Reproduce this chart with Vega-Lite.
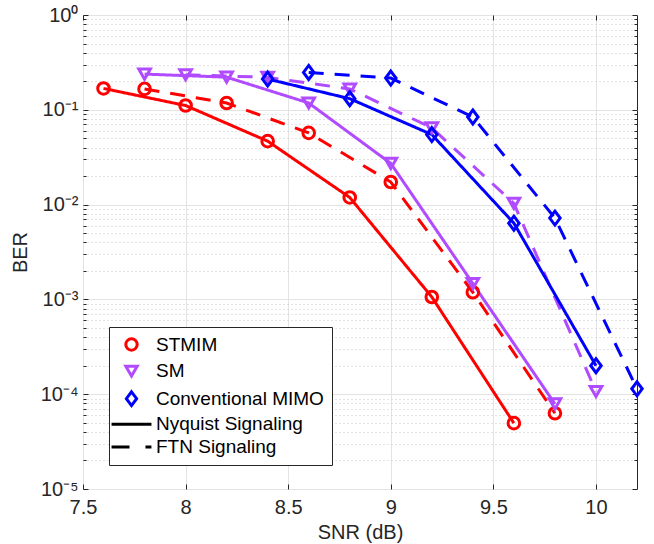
{
  "$schema": "https://vega.github.io/schema/vega-lite/v6.json",
  "width": 554,
  "height": 474,
  "autosize": {"type": "none"},
  "padding": {"left": 83, "top": 15, "right": 17, "bottom": 55},
  "background": "white",
  "config": {
    "font": "Liberation Sans",
    "view": {"stroke": "#262626", "strokeWidth": 1}
  },
  "data": {
    "values": [
      {"snr": 7.6, "ber": 0.168, "scheme": "STMIM", "sig": "Nyquist", "series": "STMIM Nyquist"},
      {"snr": 8.0, "ber": 0.111, "scheme": "STMIM", "sig": "Nyquist", "series": "STMIM Nyquist"},
      {"snr": 8.4, "ber": 0.0467, "scheme": "STMIM", "sig": "Nyquist", "series": "STMIM Nyquist"},
      {"snr": 8.8, "ber": 0.0119, "scheme": "STMIM", "sig": "Nyquist", "series": "STMIM Nyquist"},
      {"snr": 9.2, "ber": 0.00106, "scheme": "STMIM", "sig": "Nyquist", "series": "STMIM Nyquist"},
      {"snr": 9.6, "ber": 0.0000495, "scheme": "STMIM", "sig": "Nyquist", "series": "STMIM Nyquist"},
      {"snr": 7.8, "ber": 0.166, "scheme": "STMIM", "sig": "FTN", "series": "STMIM FTN"},
      {"snr": 8.2, "ber": 0.118, "scheme": "STMIM", "sig": "FTN", "series": "STMIM FTN"},
      {"snr": 8.6, "ber": 0.0571, "scheme": "STMIM", "sig": "FTN", "series": "STMIM FTN"},
      {"snr": 9.0, "ber": 0.0173, "scheme": "STMIM", "sig": "FTN", "series": "STMIM FTN"},
      {"snr": 9.4, "ber": 0.00119, "scheme": "STMIM", "sig": "FTN", "series": "STMIM FTN"},
      {"snr": 9.8, "ber": 0.000063, "scheme": "STMIM", "sig": "FTN", "series": "STMIM FTN"},
      {"snr": 7.8, "ber": 0.238, "scheme": "SM", "sig": "Nyquist", "series": "SM Nyquist"},
      {"snr": 8.2, "ber": 0.221, "scheme": "SM", "sig": "Nyquist", "series": "SM Nyquist"},
      {"snr": 8.6, "ber": 0.118, "scheme": "SM", "sig": "Nyquist", "series": "SM Nyquist"},
      {"snr": 9.0, "ber": 0.0272, "scheme": "SM", "sig": "Nyquist", "series": "SM Nyquist"},
      {"snr": 9.4, "ber": 0.00147, "scheme": "SM", "sig": "Nyquist", "series": "SM Nyquist"},
      {"snr": 9.8, "ber": 0.000079, "scheme": "SM", "sig": "Nyquist", "series": "SM Nyquist"},
      {"snr": 8.0, "ber": 0.234, "scheme": "SM", "sig": "FTN", "series": "SM FTN"},
      {"snr": 8.4, "ber": 0.22, "scheme": "SM", "sig": "FTN", "series": "SM FTN"},
      {"snr": 8.8, "ber": 0.166, "scheme": "SM", "sig": "FTN", "series": "SM FTN"},
      {"snr": 9.2, "ber": 0.0645, "scheme": "SM", "sig": "FTN", "series": "SM FTN"},
      {"snr": 9.6, "ber": 0.0103, "scheme": "SM", "sig": "FTN", "series": "SM FTN"},
      {"snr": 10.0, "ber": 0.000107, "scheme": "SM", "sig": "FTN", "series": "SM FTN"},
      {"snr": 8.4, "ber": 0.211, "scheme": "Conventional MIMO", "sig": "Nyquist", "series": "MIMO Nyquist"},
      {"snr": 8.8, "ber": 0.131, "scheme": "Conventional MIMO", "sig": "Nyquist", "series": "MIMO Nyquist"},
      {"snr": 9.2, "ber": 0.0548, "scheme": "Conventional MIMO", "sig": "Nyquist", "series": "MIMO Nyquist"},
      {"snr": 9.6, "ber": 0.00637, "scheme": "Conventional MIMO", "sig": "Nyquist", "series": "MIMO Nyquist"},
      {"snr": 10.0, "ber": 0.0002, "scheme": "Conventional MIMO", "sig": "Nyquist", "series": "MIMO Nyquist"},
      {"snr": 8.6, "ber": 0.248, "scheme": "Conventional MIMO", "sig": "FTN", "series": "MIMO FTN"},
      {"snr": 9.0, "ber": 0.216, "scheme": "Conventional MIMO", "sig": "FTN", "series": "MIMO FTN"},
      {"snr": 9.4, "ber": 0.084, "scheme": "Conventional MIMO", "sig": "FTN", "series": "MIMO FTN"},
      {"snr": 9.8, "ber": 0.0072, "scheme": "Conventional MIMO", "sig": "FTN", "series": "MIMO FTN"},
      {"snr": 10.2, "ber": 0.000114, "scheme": "Conventional MIMO", "sig": "FTN", "series": "MIMO FTN"}
    ]
  },
  "resolve": {"axis": {"x": "independent", "y": "independent"}},
  "layer": [
    {
      "mark": {"type": "line", "strokeWidth": 3, "clip": false},
      "encoding": {
        "x": {
          "field": "snr", "type": "quantitative",
          "scale": {"domain": [7.5, 10.2], "nice": false, "zero": false},
          "axis": {
            "orient": "bottom",
            "values": [7.5, 8, 8.5, 9, 9.5, 10],
            "format": "~g",
            "title": "SNR (dB)",
            "titleFontSize": 20, "titleFontWeight": "normal", "titleColor": "#262626", "titlePadding": 5,
            "labelFontSize": 20, "labelColor": "#262626", "labelPadding": 13, "labelFlush": false, "labelOverlap": false,
            "tickSize": -5, "tickColor": "#262626", "domain": false,
            "grid": true, "gridColor": "#e3e3e3", "gridWidth": 1
          }
        },
        "y": {
          "field": "ber", "type": "quantitative",
          "scale": {"type": "log", "domain": [0.00001, 1], "nice": false},
          "axis": {
            "orient": "left",
            "values": [0.00001, 0.00002, 0.00003, 0.00004, 0.00005, 0.00006, 0.00007, 0.00008, 0.00009,
                       0.0001, 0.0002, 0.0003, 0.0004, 0.0005, 0.0006, 0.0007, 0.0008, 0.0009,
                       0.001, 0.002, 0.003, 0.004, 0.005, 0.006, 0.007, 0.008, 0.009,
                       0.01, 0.02, 0.03, 0.04, 0.05, 0.06, 0.07, 0.08, 0.09,
                       0.1, 0.2, 0.3, 0.4, 0.5, 0.6, 0.7, 0.8, 0.9, 1],
            "labelExpr": "abs(log(datum.value)/LN10 - round(log(datum.value)/LN10)) > 0.01 ? '' : datum.value > 0.5 ? '10⁰' : datum.value > 0.05 ? '10⁻¹' : datum.value > 0.005 ? '10⁻²' : datum.value > 0.0005 ? '10⁻³' : datum.value > 0.00005 ? '10⁻⁴' : '10⁻⁵'",
            "title": "BER",
            "titleFontSize": 20, "titleFontWeight": "normal", "titleColor": "#262626", "titlePadding": 10,
            "labelFontSize": 20, "labelColor": "#262626", "labelPadding": 10, "labelOverlap": false, "labelFlush": false,
            "tickColor": "#262626",
            "tickSize": {"condition": {"test": "abs(log(datum.value)/LN10 - round(log(datum.value)/LN10)) < 0.01", "value": -5}, "value": -3},
            "domain": false,
            "grid": true,
            "gridColor": {"condition": {"test": "abs(log(datum.value)/LN10 - round(log(datum.value)/LN10)) < 0.01", "value": "#e3e3e3"}, "value": "#c8c8c8"},
            "gridDash": {"condition": {"test": "abs(log(datum.value)/LN10 - round(log(datum.value)/LN10)) < 0.01", "value": []}, "value": [1, 3]}
          }
        },
        "color": {
          "field": "scheme", "type": "nominal",
          "scale": {"domain": ["STMIM", "SM", "Conventional MIMO", "Nyquist Signaling", "FTN Signaling"],
                    "range": ["#FF0000", "#B04BFF", "#0000FF", "#000000", "#000000"]},
          "legend": {
            "orient": "none", "legendX": 26, "legendY": 312,
            "values": ["STMIM", "SM", "Conventional MIMO", "Nyquist Signaling", "FTN Signaling"],
            "title": null,
            "strokeColor": "#262626", "fillColor": "white", "padding": 8,
            "symbolSize": 130, "symbolStrokeWidth": 3, "symbolOffset": 5,
            "labelFontSize": 19, "labelColor": "black", "labelOffset": 15, "rowPadding": 2.6, "labelLimit": 300
          }
        },
        "strokeDash": {
          "field": "sig", "type": "nominal",
          "scale": {"domain": ["Nyquist", "FTN"], "range": [[1, 0], [15, 11]]},
          "legend": null
        },
        "detail": {"field": "series"}
      }
    },
    {
      "mark": {"type": "point", "filled": false, "strokeWidth": 3, "size": 135, "opacity": 1, "clip": false},
      "encoding": {
        "x": {
          "field": "snr", "type": "quantitative",
          "axis": {
            "orient": "top", "values": [7.5, 8, 8.5, 9, 9.5, 10],
            "labels": false, "title": null, "grid": false, "domain": false,
            "tickSize": -5, "tickColor": "#262626"
          }
        },
        "y": {
          "field": "ber", "type": "quantitative",
          "axis": {
            "orient": "right",
            "values": [0.00001, 0.00002, 0.00003, 0.00004, 0.00005, 0.00006, 0.00007, 0.00008, 0.00009,
                       0.0001, 0.0002, 0.0003, 0.0004, 0.0005, 0.0006, 0.0007, 0.0008, 0.0009,
                       0.001, 0.002, 0.003, 0.004, 0.005, 0.006, 0.007, 0.008, 0.009,
                       0.01, 0.02, 0.03, 0.04, 0.05, 0.06, 0.07, 0.08, 0.09,
                       0.1, 0.2, 0.3, 0.4, 0.5, 0.6, 0.7, 0.8, 0.9, 1],
            "labels": false, "title": null, "grid": false, "domain": false,
            "tickColor": "#262626",
            "tickSize": {"condition": {"test": "abs(log(datum.value)/LN10 - round(log(datum.value)/LN10)) < 0.01", "value": -5}, "value": -3}
          }
        },
        "color": {
          "field": "scheme", "type": "nominal",
          "legend": {
            "orient": "none", "legendX": 26, "legendY": 312,
            "values": ["STMIM", "SM", "Conventional MIMO", "Nyquist Signaling", "FTN Signaling"],
            "title": null,
            "strokeColor": "#262626", "fillColor": "white", "padding": 8,
            "symbolSize": 130, "symbolStrokeWidth": 3, "symbolOffset": 5,
            "labelFontSize": 19, "labelColor": "black", "labelOffset": 15, "rowPadding": 2.6, "labelLimit": 300
          }
        },
        "shape": {
          "field": "scheme", "type": "nominal",
          "scale": {"domain": ["STMIM", "SM", "Conventional MIMO", "Nyquist Signaling", "FTN Signaling"],
                    "range": ["circle", "triangle-down", "M0,-1.2L0.9,0L0,1.2L-0.9,0Z", "M-3.5,0H3.5", "M-3.5,0H-0.35M2.45,0H3.5"]}
        }
      }
    }
  ]
}
